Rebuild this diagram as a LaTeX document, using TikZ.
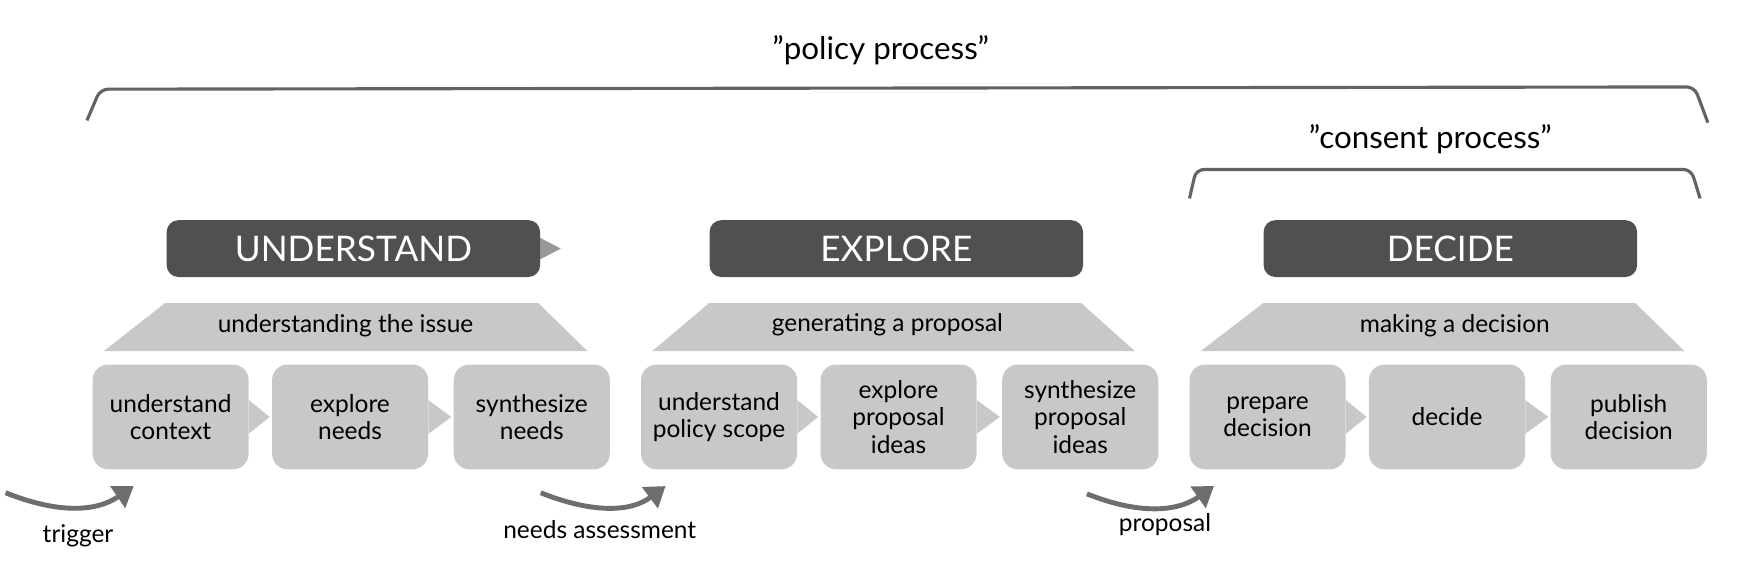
\documentclass[tikz,border=0pt]{standalone}
\usepackage{fontspec}
\setmainfont{Lato}
\usetikzlibrary{positioning,arrows.meta}
\definecolor{stagedark}{RGB}{80, 80, 80}
\definecolor{steplight}{RGB}{200, 200, 200}
\definecolor{arrowgray}{RGB}{110, 110, 110}
\tikzset{
  stage/.style={rectangle, rounded corners=6pt, fill=stagedark, text=white, minimum width=335*0.02cm, minimum height=51*0.02cm, font=\fontsize{18}{20}\selectfont},
  activity/.style={rectangle, rounded corners=8pt, fill=steplight, minimum width=140*0.02cm, minimum height=94*0.02cm, align=center, font=\fontsize{12.5}{14}\selectfont},
  phase/.style={font=\fontsize{12.5}{14}\selectfont},
  bracket/.style={draw=arrowgray!90!black, line width=1.6pt, rounded corners=4pt},
  flow/.style={draw=arrowgray, line width=2.5pt, -{Triangle[length=10pt,width=13pt]}},
  lbl/.style={font=\fontsize{12.5}{14}\selectfont}
}
\begin{document}
\begin{tikzpicture}[x=0.02cm, y=-0.02cm]
    \useasboundingbox (0,0) rectangle (1568,519);
    % Brackets
    \node[font=\fontsize{16}{18}\selectfont] (policy) at (790,45) {"policy process"};
    \draw[bracket] (78,108) -- (90,80) -- (1520,78) -- (1532,110);
    \node[font=\fontsize{16}{18}\selectfont] (consent) at (1283,125) {"consent process"};
    \draw[bracket] (1067,178) -- (1073,152) -- (1517,152) -- (1525,178);
    
    % Stage headers
    \fill[steplight!60!stagedark] (480,211) -- (503,223) -- (480,235) -- cycle;
    \node[stage] (understand) at (317,223) {UNDERSTAND};
    \node[stage] (explore) at (804,223) {EXPLORE};
    \node[stage] (decide) at (1301,223) {DECIDE};
    
    % Phase trapezoids
    \fill[steplight] (148,272) -- (483,272) -- (527,315) -- (93,315) -- cycle;
    \node[phase] (issue) at (310,292) {understanding the issue};
    \fill[steplight] (636,272) -- (970,272) -- (1018,315) -- (585,315) -- cycle;
    \node[phase] (proposal) at (796,291) {generating a proposal};
    \fill[steplight] (1133,272) -- (1467,272) -- (1511,315) -- (1077,315) -- cycle;
    \node[phase] (decision) at (1305,292) {making a decision};
    
    % Activities
    \foreach \x/\name/\txt in {153/s1/{understand\\context}, 314/s2/{explore\\needs}, 477/s3/{synthesize\\needs},
        645/s4/{understand\\policy scope}, 806/s5/{explore\\proposal\\ideas}, 969/s6/{synthesize\\proposal\\ideas},
        1137/s7/{prepare\\decision}, 1298/s8/{decide}, 1461/s9/{publish\\decision}}
      \node[activity] (\name) at (\x,374) {\txt};
    \foreach \a/\b in {s1/s2, s2/s3, s4/s5, s5/s6, s7/s8, s8/s9}
      \fill[steplight] ([yshift=-0.3cm]\a.east) -- ([xshift=-1pt]\b.west) -- ([yshift=0.3cm]\a.east) -- cycle;
    
    % Inputs
    \coordinate (t0) at (5,442);
    \coordinate (t1) at (120,436);
    \draw[flow] (t0) .. controls (50,460) and (85,460) .. (t1);
    \node[lbl] (trigger) at (70,481) {trigger};
    \coordinate (n0) at (485,442);
    \coordinate (n1) at (597,436);
    \draw[flow] (n0) .. controls (530,460) and (565,460) .. (n1);
    \node[lbl] (needs) at (538,475) {needs assessment};
    \coordinate (p0) at (975,443);
    \coordinate (p1) at (1089,436);
    \draw[flow] (p0) .. controls (1020,461) and (1055,460) .. (p1);
    \node[lbl] (prop) at (1045,471) {proposal};
\end{tikzpicture}
\end{document}
